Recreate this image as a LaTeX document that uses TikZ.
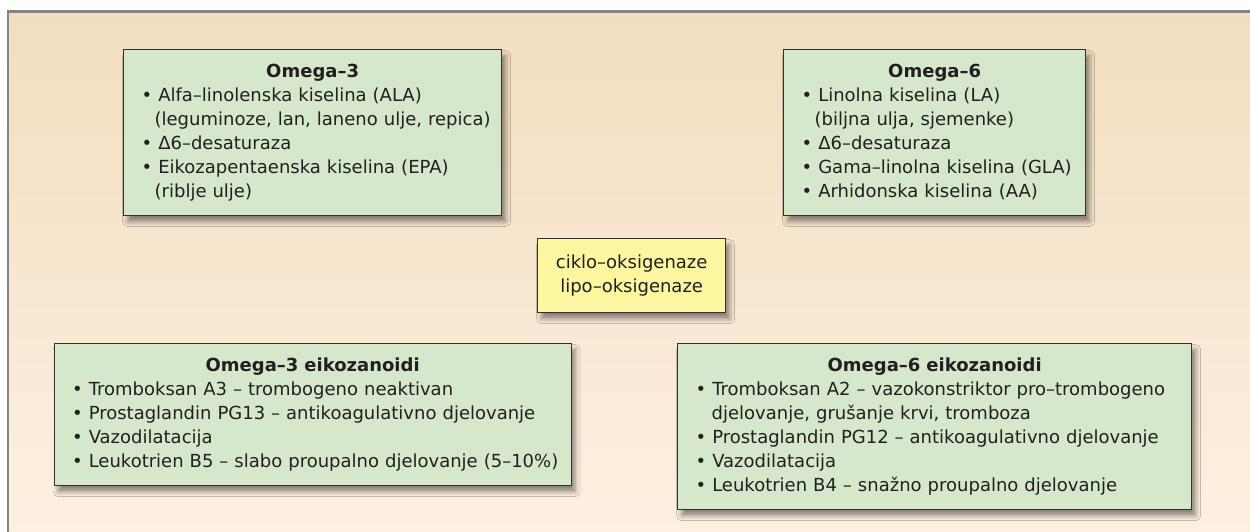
\documentclass[tikz,border=0pt]{standalone}
\usepackage{fontspec}
\setmainfont{DejaVu Sans}
\usetikzlibrary{shadows.blur}
\definecolor{bgtop}{RGB}{242,221,191}
\definecolor{bgbot}{RGB}{254,240,226}
\definecolor{boxgreen}{RGB}{214,232,203}
\definecolor{boxyellow}{RGB}{253,246,160}
\definecolor{edgecol}{RGB}{50,50,42}
\definecolor{ink}{RGB}{35,31,32}
\definecolor{framecol}{RGB}{133,133,133}
\newcommand{\boxtitle}[1]{\makebox[\linewidth]{\strut\bfseries #1}}
\newcommand{\itm}[1]{\mbox{\strut\textbullet\ #1}}
\newcommand{\cont}[2][13pt]{\mbox{\strut\hspace*{#1}#2}}
\tikzset{
  infobox/.style={draw=edgecol, line width=1.3pt, fill=boxgreen, anchor=north west,
    align=left, inner xsep=18pt, inner ysep=11pt, text=ink,
    font=\fontsize{18}{24}\selectfont,
    blur shadow={shadow xshift=4pt, shadow yshift=-6pt, shadow blur radius=5pt, shadow opacity=45}},
  notebox/.style={infobox, fill=boxyellow, align=center, inner ysep=13pt}
}
\begin{document}
\begin{tikzpicture}[x=1pt,y=-1pt]
\useasboundingbox (0,0) rectangle (1250,532);
\fill[white] (0,0) rectangle (1250,532);
\shade[top color=bgtop, bottom color=bgbot] (8,11.5) rectangle (1260,545);
\draw[framecol, line width=2.6pt] (8,545) |- (1260,11.5);

\node[infobox, text width=342pt] (o3) at (123,49) {%
\boxtitle{Omega–3}\\
\itm{Alfa–linolenska kiselina (ALA)}\\
\cont{(leguminoze, lan, laneno ulje, repica)}\\
\itm{Δ6–desaturaza}\\
\itm{Eikozapentaenska kiselina (EPA)}\\
\cont{(riblje ulje)}};

\node[infobox, text width=266pt] (o6) at (783,49) {%
\boxtitle{Omega–6}\\
\itm{Linolna kiselina (LA)}\\
\cont{(biljna ulja, sjemenke)}\\
\itm{Δ6–desaturaza}\\
\itm{Gama–linolna kiselina (GLA)}\\
\itm{Arhidonska kiselina (AA)}};

\node[notebox, text width=152pt] (enz) at (537,238) {%
\strut ciklo–oksigenaze\\
\strut lipo–oksigenaze};

\node[infobox, text width=481pt] (e3) at (53.5,343) {%
\boxtitle{Omega–3 eikozanoidi}\\
\itm{Tromboksan A3 – trombogeno neaktivan}\\
\itm{Prostaglandin PG13 – antikoagulativno djelovanje}\\
\itm{Vazodilatacija}\\
\itm{Leukotrien B5 – slabo proupalno djelovanje (5–10\%)}};

\node[infobox, text width=478pt] (e6) at (677,343) {%
\boxtitle{Omega–6 eikozanoidi}\\
\itm{Tromboksan A2 – vazokonstriktor pro–trombogeno}\\
\cont[16pt]{djelovanje, grušanje krvi, tromboza}\\
\itm{Prostaglandin PG12 – antikoagulativno djelovanje}\\
\itm{Vazodilatacija}\\
\itm{Leukotrien B4 – snažno proupalno djelovanje}};
\end{tikzpicture}
\end{document}
